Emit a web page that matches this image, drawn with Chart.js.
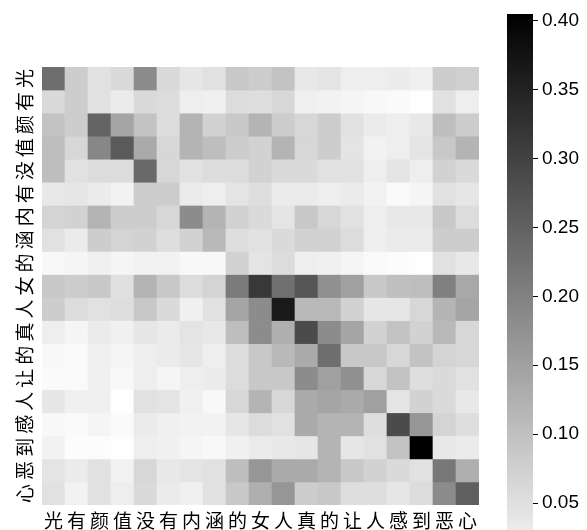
<!DOCTYPE html>
<html>
<head>
<meta charset="utf-8">
<script src="https://cdn.jsdelivr.net/npm/chart.js@4/dist/chart.umd.min.js"></script>
<style>
  html, body { margin: 0; padding: 0; background: #fff; }
  #wrap { position: relative; width: 587px; height: 530px; overflow: hidden; }
  #heat { position: absolute; left: 0; top: 0; }
  #bar { position: absolute; left: 507px; top: 0; }
</style>
</head>
<body>
<div id="wrap">
  <canvas id="heat" width="500" height="530"></canvas>
  <canvas id="bar" width="80" height="530"></canvas>
</div>
<script>
// tokens of the sentence, used for both axes
const tokens = ['光', '有', '颜', '值', '没', '有', '内', '涵', '的', '女', '人', '真', '的', '让', '人', '感', '到', '恶', '心'];

// attention weights, one row per token
const weights = [
  [0.230, 0.079, 0.048, 0.059, 0.183, 0.059, 0.040, 0.048, 0.087, 0.079, 0.095, 0.037, 0.043, 0.027, 0.027, 0.030, 0.024, 0.079, 0.075],
  [0.059, 0.079, 0.048, 0.032, 0.059, 0.056, 0.027, 0.024, 0.056, 0.053, 0.064, 0.024, 0.021, 0.016, 0.011, 0.008, 0.002, 0.048, 0.027],
  [0.095, 0.079, 0.246, 0.143, 0.095, 0.056, 0.119, 0.071, 0.087, 0.119, 0.079, 0.064, 0.079, 0.048, 0.032, 0.027, 0.037, 0.103, 0.079],
  [0.103, 0.064, 0.191, 0.262, 0.135, 0.064, 0.119, 0.103, 0.079, 0.071, 0.119, 0.064, 0.079, 0.043, 0.021, 0.027, 0.043, 0.087, 0.119],
  [0.103, 0.048, 0.056, 0.056, 0.238, 0.064, 0.048, 0.056, 0.056, 0.071, 0.059, 0.059, 0.048, 0.048, 0.027, 0.043, 0.027, 0.071, 0.059],
  [0.037, 0.040, 0.032, 0.021, 0.079, 0.079, 0.032, 0.027, 0.043, 0.053, 0.032, 0.032, 0.027, 0.032, 0.021, 0.008, 0.016, 0.048, 0.040],
  [0.068, 0.071, 0.119, 0.079, 0.079, 0.064, 0.183, 0.119, 0.071, 0.059, 0.043, 0.087, 0.064, 0.048, 0.027, 0.037, 0.037, 0.087, 0.056],
  [0.048, 0.032, 0.079, 0.068, 0.071, 0.053, 0.071, 0.111, 0.053, 0.048, 0.059, 0.071, 0.071, 0.056, 0.027, 0.032, 0.032, 0.079, 0.079],
  [0.011, 0.016, 0.024, 0.016, 0.021, 0.021, 0.011, 0.011, 0.071, 0.043, 0.056, 0.027, 0.024, 0.016, 0.008, 0.005, 0.002, 0.048, 0.037],
  [0.087, 0.081, 0.087, 0.050, 0.119, 0.087, 0.056, 0.068, 0.210, 0.316, 0.227, 0.270, 0.176, 0.151, 0.087, 0.100, 0.103, 0.202, 0.138],
  [0.079, 0.056, 0.048, 0.053, 0.087, 0.059, 0.024, 0.048, 0.143, 0.183, 0.365, 0.111, 0.111, 0.071, 0.040, 0.040, 0.064, 0.119, 0.143],
  [0.027, 0.016, 0.032, 0.024, 0.040, 0.032, 0.043, 0.037, 0.103, 0.183, 0.127, 0.286, 0.183, 0.143, 0.071, 0.095, 0.071, 0.111, 0.064],
  [0.011, 0.008, 0.024, 0.016, 0.027, 0.032, 0.040, 0.027, 0.056, 0.087, 0.111, 0.135, 0.230, 0.087, 0.087, 0.064, 0.095, 0.068, 0.064],
  [0.008, 0.008, 0.024, 0.011, 0.027, 0.016, 0.027, 0.030, 0.056, 0.087, 0.087, 0.183, 0.151, 0.175, 0.064, 0.095, 0.053, 0.059, 0.048],
  [0.040, 0.024, 0.024, 0.002, 0.048, 0.043, 0.024, 0.011, 0.064, 0.119, 0.064, 0.135, 0.143, 0.135, 0.151, 0.043, 0.071, 0.059, 0.037],
  [0.011, 0.008, 0.016, 0.008, 0.032, 0.024, 0.021, 0.021, 0.040, 0.056, 0.048, 0.135, 0.119, 0.119, 0.053, 0.286, 0.167, 0.068, 0.053],
  [0.021, 0.005, 0.005, 0.002, 0.027, 0.024, 0.016, 0.011, 0.024, 0.032, 0.037, 0.040, 0.119, 0.040, 0.048, 0.095, 0.405, 0.037, 0.032],
  [0.043, 0.032, 0.048, 0.021, 0.064, 0.037, 0.043, 0.048, 0.103, 0.167, 0.135, 0.135, 0.119, 0.087, 0.071, 0.059, 0.048, 0.214, 0.127],
  [0.048, 0.021, 0.048, 0.027, 0.059, 0.032, 0.024, 0.048, 0.087, 0.127, 0.167, 0.079, 0.087, 0.053, 0.053, 0.040, 0.056, 0.183, 0.254],
];

// colour bar
const cbTicks = [0.05, 0.10, 0.15, 0.20, 0.25, 0.30, 0.35, 0.40];
const cbRange = [0.0304, 0.405];
const vmax = 0.405;

const CJK = '"Noto Sans CJK SC", sans-serif';

// gray_r: 0 -> white, vmax -> black
function grayFor(v) {
  const g = Math.max(0, Math.min(255, Math.round(255 * (1 - v / vmax))));
  return `rgb(${g},${g},${g})`;
}

const rowLabels = {
  id: 'rowLabels',
  afterDraw(chart) {
    const { ctx } = chart;
    const y = chart.scales.y;
    ctx.save();
    ctx.fillStyle = '#000';
    ctx.font = `19px ${CJK}`;
    ctx.textAlign = 'center';
    ctx.textBaseline = 'middle';
    tokens.forEach((t, i) => {
      ctx.save();
      ctx.translate(24, y.getPixelForValue(i + 0.5));
      ctx.rotate(-Math.PI / 2);
      ctx.fillText(t, 0, 1);
      ctx.restore();
    });
    ctx.restore();
  },
};

new Chart(document.getElementById('heat'), {
  type: 'bar',
  data: {
    labels: tokens,
    datasets: weights.map((row, r) => ({
      data: row.map(() => [r, r + 1]),
      backgroundColor: row.map(grayFor),
      borderWidth: 0,
      barPercentage: 1,
      categoryPercentage: 1,
      grouped: false,
    })),
  },
  options: {
    responsive: false,
    animation: false,
    layout: { padding: { left: 42, top: 67, right: 21, bottom: 0 } },
    plugins: { legend: { display: false }, tooltip: { enabled: false } },
    scales: {
      x: {
        grid: { display: false, drawTicks: false },
        border: { display: false },
        ticks: { autoSkip: false, maxRotation: 0, padding: 4, color: '#000', font: { family: CJK, size: 19 } },
        afterFit(scale) { scale.height = 25; },
      },
      y: { display: false, reverse: true, min: 0, max: tokens.length },
    },
  },
  plugins: [rowLabels],
});

new Chart(document.getElementById('bar'), {
  type: 'bar',
  data: {
    labels: [''],
    datasets: [{
      data: [cbRange],
      borderWidth: 0,
      barPercentage: 1,
      categoryPercentage: 1,
      backgroundColor(c) {
        const { chart } = c;
        if (!chart.chartArea) return '#888';
        const y = chart.scales.y;
        const g = chart.ctx.createLinearGradient(0, y.getPixelForValue(vmax), 0, y.getPixelForValue(0));
        g.addColorStop(0, '#000');
        g.addColorStop(1, '#fff');
        return g;
      },
    }],
  },
  options: {
    responsive: false,
    animation: false,
    layout: { padding: { left: 0, top: 14, right: 0, bottom: 0 } },
    plugins: { legend: { display: false }, tooltip: { enabled: false } },
    scales: {
      x: { display: false },
      y: {
        position: 'right',
        min: cbRange[0],
        max: cbRange[1],
        grid: { drawOnChartArea: false, drawTicks: true, tickLength: 5, color: '#000' },
        border: { display: false },
        afterBuildTicks(scale) { scale.ticks = cbTicks.map(v => ({ value: v })); },
        ticks: {
          padding: 4,
          color: '#000',
          font: { family: '"Liberation Sans", Arial, sans-serif', size: 19 },
          callback: v => v.toFixed(2),
        },
        afterFit(scale) {
          scale.width = 54;
          // labels may overhang the ends, the bar itself runs to the edge
          scale.paddingTop = 0;
          scale.paddingBottom = 0;
        },
      },
    },
  },
});
</script>
</body>
</html>
